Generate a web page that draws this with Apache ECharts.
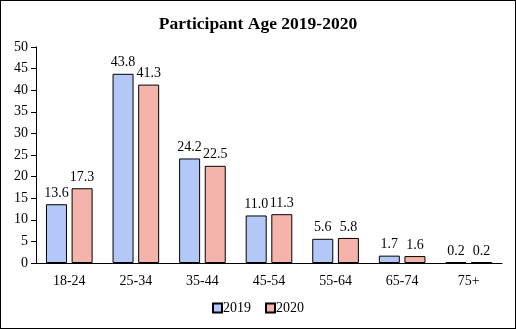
<!DOCTYPE html>
<html><head><meta charset="utf-8">
<script src="https://cdn.jsdelivr.net/npm/echarts@6/dist/echarts.min.js"></script>
<style>html,body{margin:0;padding:0;background:#fff}#c{width:516px;height:329px;box-sizing:border-box;border:1px solid #000}</style>
</head><body><div id="c"></div>
<script>
const categories = ['18-24','25-34','35-44','45-54','55-64','65-74','75+'];
const values2019 = [13.6,43.8,24.2,11.0,5.6,1.7,0.2];
const values2020 = [17.3,41.3,22.5,11.3,5.8,1.6,0.2];
const seriesNames = ['2019','2020'];
const font = '"Liberation Serif", "Times New Roman", serif';
const chart = echarts.init(document.getElementById('c'));
const lbl = {show:true, position:'top', distance:4, color:'#000', fontFamily:font, fontSize:14, formatter:p=>p.value.toFixed(1)};
chart.setOption({
  animation:false,
  title:{text:'Participant Age 2019-2020', left:'center', top:9, textStyle:{fontFamily:font, fontWeight:'bold', fontSize:17.5, color:'#000'}},
  legend:{bottom:8, left:'center', itemWidth:9, itemHeight:9, itemGap:14, icon:'rect', textStyle:{fontFamily:font, fontSize:14, color:'#000', padding:[0,0,0,-4]}, data:seriesNames},
  grid:{left:35, right:13, top:46, bottom:65},
  xAxis:{type:'category', data:categories, axisLine:{lineStyle:{color:'#000', width:1}}, axisTick:{show:false}, axisLabel:{color:'#000', fontFamily:font, fontSize:14, margin:11}},
  yAxis:{type:'value', min:0, max:50, interval:5, splitLine:{show:false}, axisLine:{show:true, lineStyle:{color:'#000'}}, axisTick:{show:true, inside:false, length:5, lineStyle:{color:'#000'}}, axisLabel:{color:'#000', fontFamily:font, fontSize:14, margin:8}},
  series:[
    {name:seriesNames[0], type:'bar', data:values2019, barWidth:21, barGap:'22%', itemStyle:{color:'#b4c8f8', borderColor:'#000', borderWidth:1}, label:lbl},
    {name:seriesNames[1], type:'bar', data:values2020, barWidth:21, itemStyle:{color:'#f4b4ac', borderColor:'#000', borderWidth:1}, label:lbl}
  ]
});
</script></body></html>
